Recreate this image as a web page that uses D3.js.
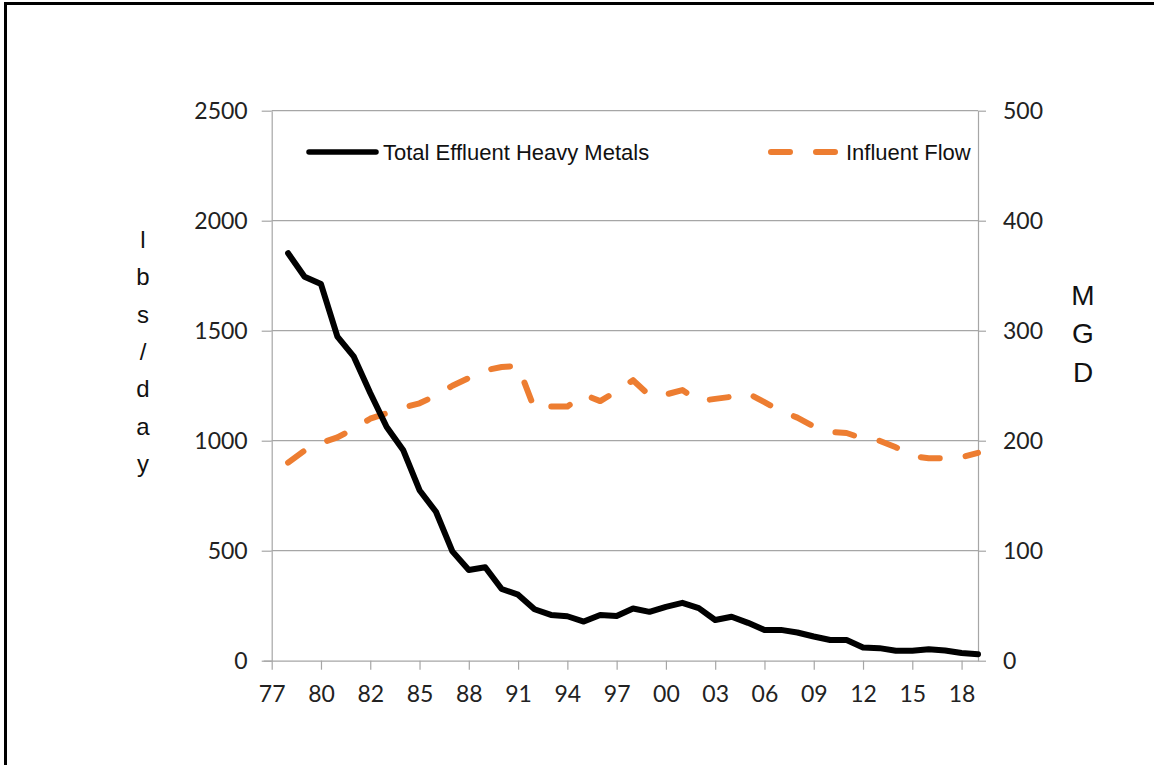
<!DOCTYPE html>
<html>
<head>
<meta charset="utf-8">
<script src="https://cdn.jsdelivr.net/npm/d3@7"></script>
<style>
  body { margin: 0; background: #fff; }
  svg { display: block; }
</style>
</head>
<body>
<script>
// values, one per category (categories are index 1..43)
const metals = [1852, 1745, 1712, 1473, 1382, 1217, 1062, 958, 775, 677,
  497, 412, 425, 326, 300, 234, 208, 202, 178, 208,
  203, 237, 222, 245, 263, 239, 185, 200, 172, 140,
  140, 128, 110, 94, 94, 60, 57, 45, 45, 52,
  46, 35, 29];
const flow = [180, 191, 198, 203, 211, 220, 225, 230, 234, 241,
  250, 257, 264, 267, 268, 229, 231, 231, 242, 236,
  245, 255, 241, 242, 246, 236, 238, 240, 243, 235,
  227, 221, 213, 208, 207, 202, 200, 194, 186, 184,
  184, 185, 189];
const tickLabels = ["77", "80", "82", "85", "88", "91", "94", "97", "00", "03", "06", "09", "12", "15", "18"];
const leftTicks = [0, 500, 1000, 1500, 2000, 2500];
const rightTicks = [0, 100, 200, 300, 400, 500];
const seriesNames = ["Total Effluent Heavy Metals", "Influent Flow"];

const width = 1154, height = 765;
const orange = "#ED7D31";
const grid = "#a6a6a6";
const tickFont = "Lato, 'Open Sans', sans-serif";
const textFont = "'Liberation Sans', Arial, sans-serif";

const svg = d3.select("body").append("svg")
  .attr("width", width)
  .attr("height", height);

// frame (only top and left edges show in the picture)
svg.append("rect")
  .attr("x", 5.5).attr("y", 3.5)
  .attr("width", 1300).attr("height", 900)
  .attr("fill", "none").attr("stroke", "#000").attr("stroke-width", 3);

const x = d3.scaleLinear().domain([0, metals.length]).range([271.7, 978]);
const yL = d3.scaleLinear().domain([0, 2500]).range([660.7, 110.7]);
const yR = d3.scaleLinear().domain([0, 500]).range([660.7, 110.7]);

// gridlines
svg.append("g").selectAll("line")
  .data(leftTicks.slice(1))
  .enter().append("line")
  .attr("x1", x(0)).attr("x2", x(metals.length))
  .attr("y1", d => yL(d)).attr("y2", d => yL(d))
  .attr("stroke", grid).attr("stroke-width", 1.2);

// left axis
const gl = svg.append("g")
  .attr("transform", "translate(" + x(0) + ",0)")
  .call(d3.axisLeft(yL).tickValues(leftTicks).tickFormat(d3.format("d"))
    .tickSize(10).tickPadding(14).tickSizeOuter(0));

// right axis
const gr = svg.append("g")
  .attr("transform", "translate(" + x(metals.length) + ",0)")
  .call(d3.axisRight(yR).tickValues(rightTicks).tickFormat(d3.format("d"))
    .tickSize(8).tickPadding(17).tickSizeOuter(0));

// bottom axis
const gb = svg.append("g")
  .attr("transform", "translate(0," + yL(0) + ")")
  .call(d3.axisBottom(x).tickValues(d3.range(0, metals.length, 3))
    .tickFormat((d, i) => tickLabels[i]).tickSize(9).tickPadding(16).tickSizeOuter(0));

[gl, gr, gb].forEach(g => {
  g.selectAll(".domain").attr("stroke", grid).attr("stroke-width", 1.2);
  g.selectAll(".tick line").attr("stroke", grid).attr("stroke-width", 1.2);
  g.selectAll("text").attr("font-family", tickFont).attr("font-size", 23).attr("fill", "#222");
});
gb.select(".domain").attr("d", "M" + (x(0) - 8) + ",0.5H" + x(metals.length));

// series
const lineL = d3.line().x((d, i) => x(i + 1)).y(d => yL(d));
const lineR = d3.line().x((d, i) => x(i + 1)).y(d => yR(d));

svg.append("path")
  .datum(flow)
  .attr("d", lineR)
  .attr("fill", "none")
  .attr("stroke", orange)
  .attr("stroke-width", 6)
  .attr("stroke-linecap", "round")
  .attr("stroke-linejoin", "round")
  .attr("stroke-dasharray", "19,26");

svg.append("path")
  .datum(metals)
  .attr("d", lineL)
  .attr("fill", "none")
  .attr("stroke", "#000")
  .attr("stroke-width", 6)
  .attr("stroke-linecap", "round")
  .attr("stroke-linejoin", "round");

// legend
const legend = svg.append("g");
legend.append("line")
  .attr("x1", 309).attr("x2", 376).attr("y1", 152).attr("y2", 152)
  .attr("stroke", "#000").attr("stroke-width", 5.5).attr("stroke-linecap", "round");
legend.append("text")
  .attr("x", 383).attr("y", 160)
  .attr("font-family", textFont).attr("font-size", 22).attr("fill", "#111")
  .text(seriesNames[0]);
legend.append("line")
  .attr("x1", 771).attr("x2", 836).attr("y1", 152).attr("y2", 152)
  .attr("stroke", orange).attr("stroke-width", 6).attr("stroke-linecap", "round")
  .attr("stroke-dasharray", "19,26");
legend.append("text")
  .attr("x", 846).attr("y", 160)
  .attr("font-family", textFont).attr("font-size", 22).attr("fill", "#111")
  .text(seriesNames[1]);

// stacked axis titles
const leftTitle = "lbs/day".split("");
svg.append("g").selectAll("text")
  .data(leftTitle)
  .enter().append("text")
  .attr("x", 143).attr("y", (d, i) => 248 + i * 37.3)
  .attr("text-anchor", "middle")
  .attr("font-family", textFont).attr("font-size", 24).attr("fill", "#111")
  .text(d => d);

const rightTitle = "MGD".split("");
svg.append("g").selectAll("text")
  .data(rightTitle)
  .enter().append("text")
  .attr("x", 1083).attr("y", (d, i) => 305 + i * 38.3)
  .attr("text-anchor", "middle")
  .attr("font-family", textFont).attr("font-size", 28).attr("fill", "#111")
  .text(d => d);
</script>
</body>
</html>
